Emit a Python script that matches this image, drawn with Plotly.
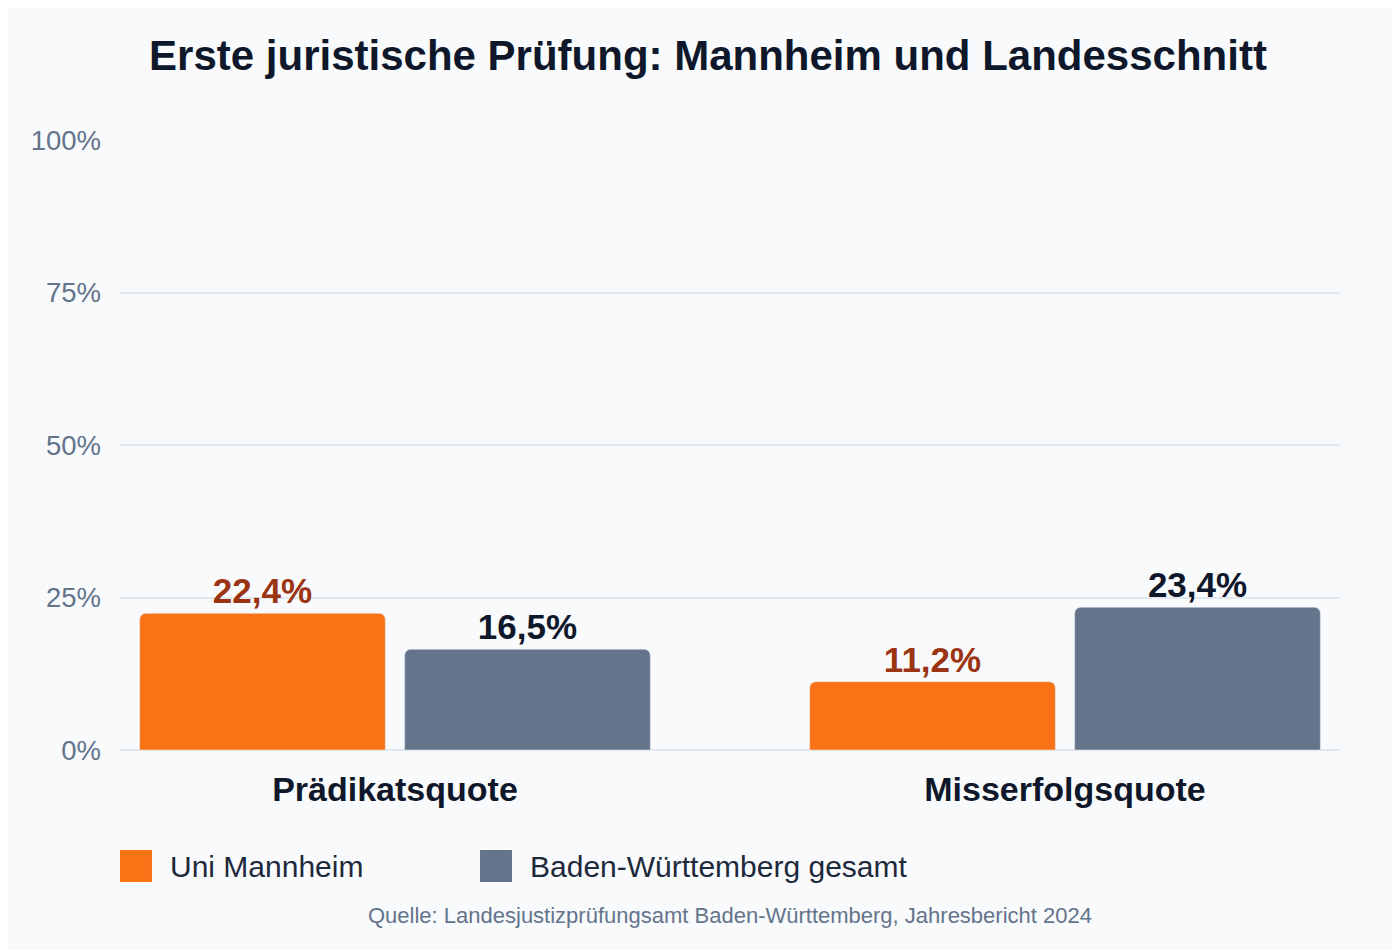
import plotly.graph_objects as go

categories = ["Prädikatsquote", "Misserfolgsquote"]
series_names = ["Uni Mannheim", "Baden-Württemberg gesamt"]
mannheim = [22.4, 11.2]
bw = [16.5, 23.4]
mannheim_labels = ["22,4%", "11,2%"]
bw_labels = ["16,5%", "23,4%"]
yticks = [0, 25, 50, 75, 100]
ytick_labels = ["0%", "25%", "50%", "75%", "100%"]

FONT = "Liberation Sans, Arial, sans-serif"
ORANGE, SLATE = "#f97316", "#64748b"
xpos = list(range(len(categories)))

fig = go.Figure()
fig.add_bar(name=series_names[0], x=xpos, y=mannheim, text=mannheim_labels,
            textposition="outside", marker=dict(color=ORANGE, cornerradius=6),
            textfont=dict(size=35, color="#9a3412", family=FONT, weight="bold"),
            cliponaxis=False, showlegend=False)
fig.add_bar(name=series_names[1], x=xpos, y=bw, text=bw_labels,
            textposition="outside", marker=dict(color=SLATE, cornerradius=6),
            textfont=dict(size=35, color="#0f172a", family=FONT, weight="bold"),
            cliponaxis=False, showlegend=False)

shapes = []
annotations = []
for i, (nm, col) in enumerate(zip(series_names, [ORANGE, SLATE])):
    x0 = [0.0, 0.2951][i]
    shapes.append(dict(type="rect", xref="paper", yref="paper", x0=x0, x1=x0 + 0.0262,
                       y0=-0.2164, y1=-0.1639, fillcolor=col, line=dict(width=0),
                       layer="above"))
    annotations.append(dict(text=nm, xref="paper", yref="paper", x=x0 + 0.0393, y=-0.1902,
                            xanchor="left", yanchor="middle", showarrow=False,
                            font=dict(size=30, color="#1e293b")))
annotations.append(dict(text="Quelle: Landesjustizprüfungsamt Baden-Württemberg, Jahresbericht 2024",
                        xref="paper", yref="paper", x=0.5, y=-0.272, xanchor="center",
                        yanchor="middle", showarrow=False,
                        font=dict(size=22, color="#64748b")))

fig.update_layout(
    width=1400, height=950,
    paper_bgcolor="#f8fafc", plot_bgcolor="#f8fafc",
    font=dict(family=FONT),
    title=dict(text="<b>Erste juristische Prüfung: Mannheim und Landesschnitt</b>",
               x=0.5, xanchor="center", y=0.9505, yanchor="middle",
               font=dict(size=42, color="#0f172a")),
    margin=dict(l=112, r=68, t=132, b=208),
    barmode="group", bargap=0.209, bargroupgap=0.073,
    shapes=shapes, annotations=annotations,
    yaxis=dict(range=[0, 100], tickvals=yticks, ticktext=ytick_labels,
               tickfont=dict(size=27.5, color="#64748b"), gridcolor="#e2e8f0",
               gridwidth=1.5, zeroline=True, zerolinecolor="#e2e8f0", ticklabelstandoff=18),
    xaxis=dict(range=[-0.4104, 1.4104], tickvals=xpos, ticktext=categories,
               tickfont=dict(size=34, color="#0f172a", weight="bold"),
               ticklabelstandoff=16, showgrid=False, zeroline=False),
)
fig.write_html("out.html")
